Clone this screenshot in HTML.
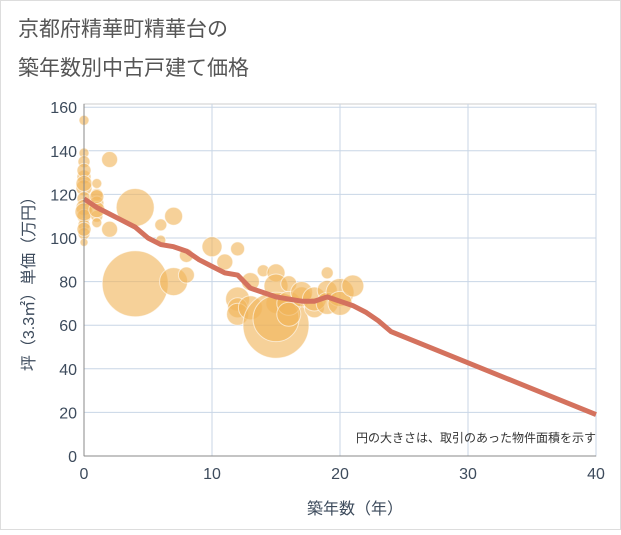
<!DOCTYPE html>
<html><head><meta charset="utf-8"><style>
body{margin:0;background:#fff;font-family:"Liberation Sans","Noto Sans CJK JP",sans-serif;}
#wrap{position:relative;width:621px;height:530px;}
</style></head><body>
<div id="wrap">
<svg id="chart" width="621" height="530" xmlns="http://www.w3.org/2000/svg">
<rect x="0.5" y="0.5" width="620" height="529" fill="#fff" stroke="#ddd"/>
<text x="18" y="36" font-size="21" fill="#555">京都府精華町精華台の</text>
<text x="18" y="75" font-size="21" fill="#555">築年数別中古戸建て価格</text>
<g id="grid"></g>
<g id="bubbles"></g>
<g id="line"></g>
<g id="axes"></g>
<text x="596" y="442" font-size="12" fill="#333" text-anchor="end">円の大きさは、取引のあった物件面積を示す</text>
<text x="355" y="514" font-size="16" fill="#3d4b5c" text-anchor="middle">築年数（年）</text>
<text transform="translate(34,280) rotate(-90)" font-size="16" fill="#3d4b5c" text-anchor="middle">坪（3.3㎡）単価（万円）</text>
</svg></div>
<script>
const xTicks=[0,10,20,30,40];
const yTicks=[0,20,40,60,80,100,120,140,160];
const bx=[0,0,0,0,0,0,0,0,0,0,0,0,0,0,0,1,1,1,1,1,1,1,2,2,4,4,6,6,7,7,8,8,10,11,12,12,12,12,13,13,14,15,15,15,15,15,16,16,16,17,17,18,18,19,19,19,20,20,21];
const by=[154,139,135,128,123,118,114,110,106,102,98,131,125,112,104,125,120,116,110,107,113,119,136,104,114,79,106,99,110,80,92,83,96,89,95,72,68,65,68,80,85,84,78,70,60,63,79,70,65,73,75,68,72,84,76,70,75,70,78];
const br=[5,5,6,7,8,7,8,7,6,6,4,7,8,9,7,5,6,7,6,5,8,7,8,8,19,33,6,5,9,14,7,8,10,8,7,12,10,11,12,9,6,9,12,10,33,23,8,12,12,10,11,10,12,6,10,11,14,12,11];
const lx=[0,1,2,3,4,5,6,7,8,9,10,11,12,13,14,15,16,17,18,19,20,21,22,23,24,40];
const ly=[118,114,111,108,105,100,97,96,94,90,87,84,83,77,75,73,72,71,71,73,71,69,66,62,57,19];
const NS="http://www.w3.org/2000/svg";
const X=v=>84+v*12.8, Y=v=>456-v*2.18;
function mk(t,a,p){const e=document.createElementNS(NS,t);for(const k in a)e.setAttribute(k,a[k]);p.appendChild(e);return e;}
const grid=document.getElementById('grid'),axes=document.getElementById('axes');
mk('rect',{x:84,y:104,width:512,height:352,fill:'none',stroke:'#ccc'},grid);
xTicks.forEach(t=>{const l=mk('line',{x1:X(t),x2:X(t),y1:104,y2:456,stroke:'#c8d6e6'},grid);


const tx=mk('text',{x:X(t),y:479,'font-size':16,fill:'#3d4b5c','text-anchor':'middle'},axes);tx.textContent=t;

});
yTicks.forEach(t=>{const l=mk('line',{x1:84,x2:596,y1:Y(t),y2:Y(t),stroke:'#c8d6e6'},grid);


const tx=mk('text',{x:77,y:Y(t)+6,'font-size':16,fill:'#3d4b5c','text-anchor':'end'},axes);tx.textContent=t;

});
mk('line',{x1:84,x2:84,y1:104,y2:456,stroke:'#888'},axes);
mk('line',{x1:84,x2:596,y1:456,y2:456,stroke:'#888'},axes);
const bg=document.getElementById('bubbles');
bx.forEach((v,i)=>{const c=mk('circle',{cx:X(v),cy:Y(by[i]),r:br[i],fill:'rgba(240,180,90,0.62)',stroke:'rgba(255,255,255,0.6)'},bg);

});
const p=mk('polyline',{points:lx.map((v,i)=>X(v)+','+Y(ly[i])).join(' '),fill:'none',stroke:'#d4725e','stroke-width':5,'stroke-linejoin':'round'},document.getElementById('line'));


</script>
</body></html>
